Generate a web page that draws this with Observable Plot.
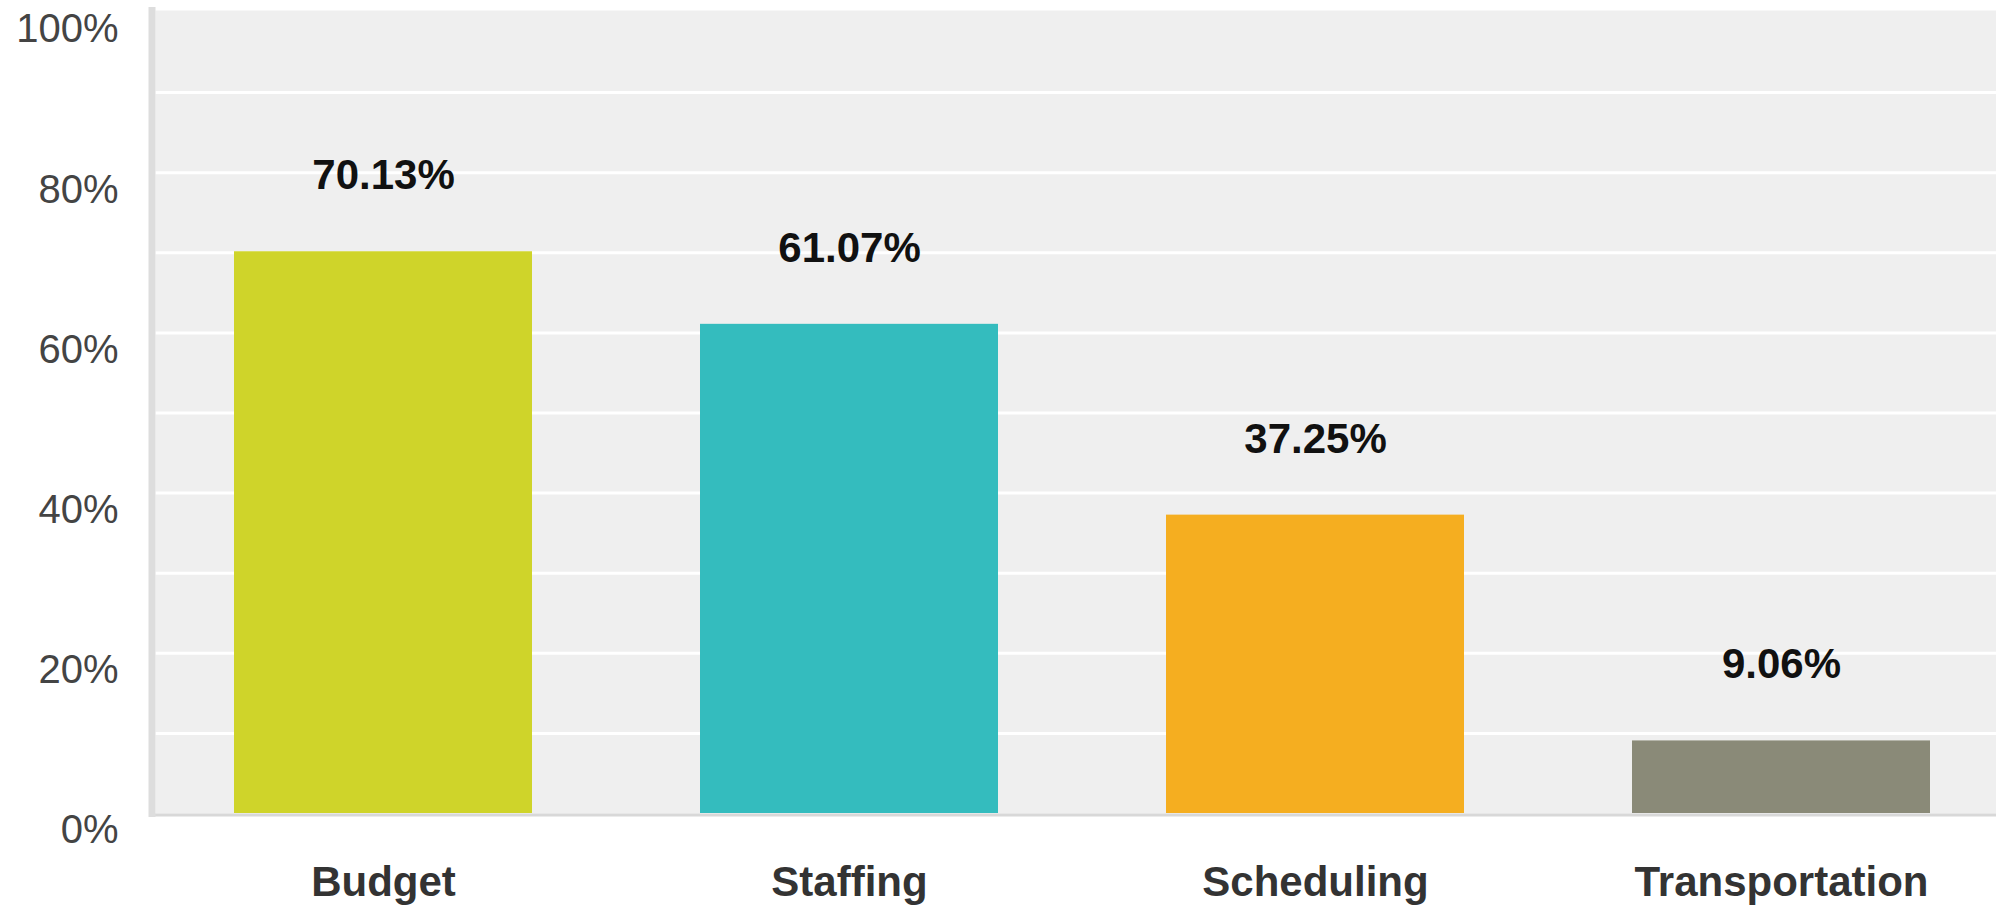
<!DOCTYPE html>
<html>
<head>
<meta charset="utf-8">
<script src="https://cdn.jsdelivr.net/npm/d3@7"></script>
<script src="https://cdn.jsdelivr.net/npm/@observablehq/plot@0.6"></script>
<style>
  html, body { margin: 0; padding: 0; background: #fff; overflow: hidden; }
  #chart svg { display: block; }
</style>
</head>
<body>
<div id="chart"></div>
<script>
const categories = ["Budget", "Staffing", "Scheduling", "Transportation"];
const values = [70.13, 61.07, 37.25, 9.06];
const colors = ["#cfd42a", "#34bcbe", "#f5ae20", "#8a8a78"];
const yTicks = [0, 20, 40, 60, 80, 100];
const gridValues = [10, 20, 30, 40, 50, 60, 70, 80, 90];

const data = categories.map((c, i) => ({category: c, value: values[i]}));

const chart = Plot.plot({
  width: 1996,
  height: 905,
  marginLeft: 155,
  marginRight: 0,
  marginTop: 10,
  marginBottom: 92,
  style: {fontFamily: "'Liberation Sans', Arial, sans-serif", background: "#fff"},
  x: {domain: categories, range: [149, 2015], paddingInner: 0.36, paddingOuter: 0.18, align: 0.5, label: null},
  y: {domain: [0, 100.25], label: null},
  color: {domain: categories, range: colors},
  marks: [
    Plot.frame({fill: "#efefef", stroke: null}),
    Plot.ruleY(gridValues, {stroke: "#ffffff", strokeWidth: 3}),
    Plot.barY(data, {x: "category", y: "value", fill: "category"}),
    Plot.ruleY([0], {stroke: "#d8d8d8", strokeWidth: 3, dy: 1.5}),
    Plot.frame({anchor: "left", stroke: "#dddddd", strokeWidth: 7, dx: -3.5}),
    Plot.text(data, {x: "category", y: "value", text: d => d.value.toFixed(2) + "%", dy: -76, fontSize: 42, fontWeight: "bold", fill: "#111"}),
    Plot.axisY(yTicks, {tickSize: 0, tickPadding: 37, fontSize: 40, fill: "#444", dy: 17, tickFormat: d => d + "%", label: null}),
    Plot.axisX({tickSize: 0, tickPadding: 53, fontSize: 42, fontWeight: "bold", fill: "#333", label: null})
  ]
});
document.getElementById("chart").appendChild(chart);
</script>
</body>
</html>
